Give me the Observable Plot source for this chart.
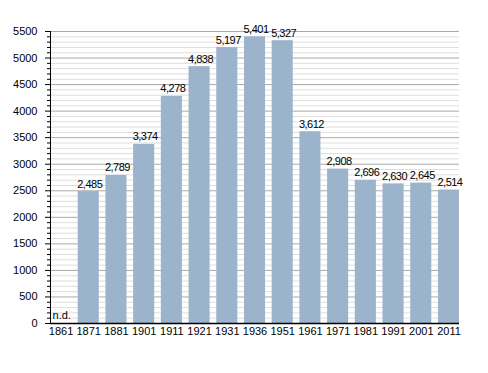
<!DOCTYPE html>
<html>
<head>
<meta charset="utf-8">
<script src="https://cdn.jsdelivr.net/npm/d3@7"></script>
<script src="https://cdn.jsdelivr.net/npm/@observablehq/plot@0.6"></script>
<style>
  html, body { margin: 0; padding: 0; background: #fff; }
  #chart svg { display: block; }
  .vlabel text { letter-spacing: -0.5px; }
</style>
</head>
<body>
<div id="chart"></div>
<script>
const years = ["1861","1871","1881","1901","1911","1921","1931","1936","1951","1961","1971","1981","1991","2001","2011"];
const population = [null, 2485, 2789, 3374, 4278, 4838, 5197, 5401, 5327, 3612, 2908, 2696, 2630, 2645, 2514];
const majorTicks = d3.range(0, 5501, 500);
const minorTicks = d3.range(0, 5501, 100).filter(v => v % 500 !== 0);
const missingLabel = "n.d.";

const data = years.map((year, i) => ({year, value: population[i]}));
const known = data.filter(d => d.value != null);
const fmt = d3.format(",");

const chart = Plot.plot({
  width: 488,
  height: 373,
  marginLeft: 50,
  marginRight: 29,
  marginTop: 31,
  marginBottom: 50,
  style: {fontFamily: "'Liberation Sans', Arial, sans-serif", fontSize: "11px", color: "#000", background: "#fff"},
  x: {domain: years, paddingInner: 0.24, paddingOuter: 0, round: false, label: null},
  y: {domain: [0, 5500], label: null},
  marks: [
    Plot.ruleY(minorTicks, {stroke: "#dedede", strokeWidth: 1}),
    Plot.ruleY(majorTicks, {stroke: "#a9a9a9", strokeWidth: 1}),
    Plot.barY(known, {x: "year", y: "value", fill: "#9bb3cb"}),
    Plot.text(known, {x: "year", y: "value", text: d => fmt(d.value), lineAnchor: "bottom", dy: -4, dx: 1, fill: "#000", fontSize: 11, className: "vlabel"}),
    Plot.text(data.filter(d => d.value == null), {x: "year", y: 0, text: () => missingLabel, textAnchor: "start", lineAnchor: "bottom", dx: -8.5, dy: -5, fill: "#000", fontSize: 11}),
    Plot.axisY(minorTicks, {tickSize: 3, tickFormat: () => "", stroke: "#000"}),
    Plot.axisY(majorTicks, {tickSize: 5, tickPadding: 8, tickFormat: d => String(d), stroke: "#000", fill: "#000"}),
    Plot.axisX({tickSize: 0, tickPadding: 4, fill: "#000"}),
    Plot.frame({anchor: "left", stroke: "#000"}),
    Plot.ruleY([0], {stroke: "#000", strokeWidth: 1.5})
  ]
});
document.getElementById("chart").appendChild(chart);
</script>
</body>
</html>
